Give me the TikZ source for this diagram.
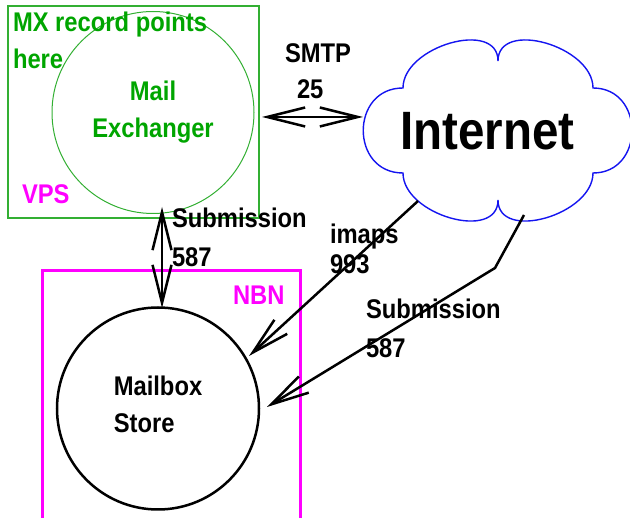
\documentclass[tikz,border=0pt]{standalone}
\usepackage{fontspec}
\setmainfont{Liberation Sans}[FakeStretch=0.88]
\usetikzlibrary{arrows.meta}
\definecolor{vtext}{RGB}{0,165,0}
\definecolor{vline}{RGB}{50,175,50}
\definecolor{mag}{RGB}{255,0,255}
\definecolor{cloudblue}{RGB}{20,20,240}
\begin{document}
\begin{tikzpicture}[x=1pt,y=-1pt,
  every node/.style={font=\fontsize{27}{37}\selectfont\bfseries, inner sep=0pt, outer sep=0pt},
  >={Straight Barb[length=38pt,width=19pt]},
  conn/.style={draw=black, line width=2.5pt, line join=miter},
  lbl/.style={anchor=north west, align=left},
  bignode/.style={circle, minimum size=202pt, align=center}]
\useasboundingbox (0,0) rectangle (630,518);
\clip (0,0) rectangle (630,518);

% VPS box
\draw[vline, line width=1.1pt] (8,6) rectangle (259,218);
\node[bignode, draw=vline, line width=1pt, text=vtext] (mx) at (153,112.5) {Mail\\Exchanger};
\node[lbl, text=vtext] (mxnote) at (13,11.8) {MX record points\\here};
\node[anchor=base west, text=mag] (vps) at (22,204) {VPS};

% NBN box
\draw[mag, line width=3pt] (42,530) -- (42,271) -- (300,271) -- (300,530);
\node[anchor=base west, text=mag] (nbn) at (233,305) {NBN};
\node[bignode, draw=black, line width=2.5pt,
  label={[name=mbtext, align=left, yshift=4.5pt]center:Mailbox\\Store}] (mb) at (158,408.5) {};

% Internet cloud
\draw[cloudblue, line width=1.4pt]
  (403,88) .. controls (403,46) and (498,19) .. (498,61)
  .. controls (498,19) and (593,46) .. (593,88)
  .. controls (645,88) and (645,173) .. (593,173)
  .. controls (593,215) and (498,242) .. (498,200)
  .. controls (498,242) and (403,215) .. (403,173)
  .. controls (350,173) and (350,88) .. (403,88) -- cycle;
\node[font=\fontsize{54}{60}\selectfont\bfseries] (inet) at (487.5,131.5) {Internet};

% connector end points
\coordinate (smtpL) at (262,117);
\coordinate (smtpR) at (363,117);
\coordinate (subT) at (162,207);
\coordinate (subB) at (162,308);
\coordinate (imapS) at (418,201);
\coordinate (imapT) at (249,356);
\coordinate (sub2S) at (524,215);
\coordinate (sub2K) at (495,268);
\coordinate (sub2T) at (267,407);

% connectors
\draw[conn, <->] (smtpL) -- (smtpR);
\draw[conn, <->] (subT) -- (subB);
\draw[conn, ->] (imapS) -- (imapT);
\draw[conn, ->] (sub2S) -- (sub2K) -- (sub2T);

% labels
\node[anchor=base west] (smtp) at (285,63) {SMTP};
\node[anchor=base west] (p25) at (297,99) {25};
\node[lbl, font=\fontsize{27}{39}\selectfont\bfseries] (sublbl) at (172,207.7) {Submission\\587};
\node[lbl, font=\fontsize{27}{30}\selectfont\bfseries] (imaplbl) at (330,223.7) {imaps\\993};
\node[lbl, font=\fontsize{27}{39}\selectfont\bfseries] (sub2lbl) at (366,298.7) {Submission\\587};
\end{tikzpicture}
\end{document}
